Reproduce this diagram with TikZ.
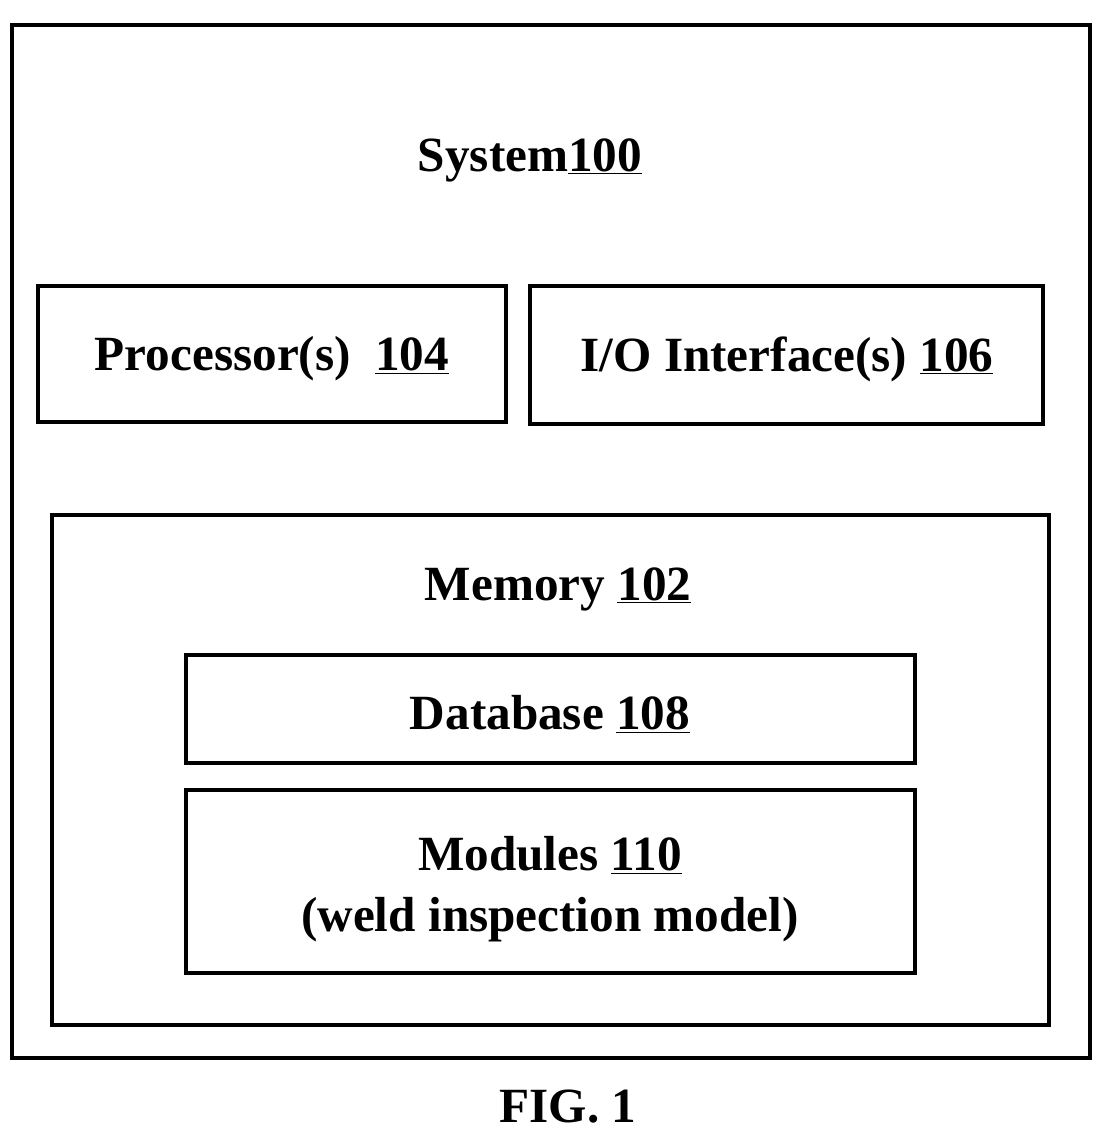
\documentclass[tikz,border=0pt]{standalone}
\usepackage{fontspec}
\setmainfont{Liberation Serif}
\begin{document}
\begin{tikzpicture}[x=0.025cm,y=-0.025cm]
		\tikzstyle{mybox}=[rectangle,
		draw=black,
		line width=3pt,
		inner sep=0pt
		]
		\tikzstyle{mytext}=[font=\fontsize{35}{43}\selectfont\bfseries,
		align=center
		]
		
		\useasboundingbox (0,0) rectangle (1112,1132);
		
		% boxes
		\node[mybox, minimum width=1078*0.025cm, minimum height=1033*0.025cm] (sys) at (551, 541.5) {};
		\node[mybox, minimum width=468*0.025cm, minimum height=136*0.025cm] (proc) at (272, 354) {};
		\node[mybox, minimum width=513*0.025cm, minimum height=138*0.025cm] (io) at (786.5, 355) {};
		\node[mybox, minimum width=997*0.025cm, minimum height=510*0.025cm] (mem) at (550.5, 770) {};
		\node[mybox, minimum width=729*0.025cm, minimum height=108*0.025cm] (db) at (550.5, 709) {};
		\node[mybox, minimum width=729*0.025cm, minimum height=183*0.025cm] (mod) at (550.5, 881.5) {};
		
		% labels
		\node[mytext] (tsys) at (530, 160) {System\underline{100}};
		\node[mytext] (tproc) at (272, 359) {Processor(s)\ \ \underline{104}};
		\node[mytext] (tio) at (787, 359) {I/O Interface(s) \underline{106}};
		\node[mytext] (tmem) at (558, 589) {Memory \underline{102}};
		\node[mytext] (tdb) at (550, 714) {Database \underline{108}};
		\node[mytext] (tmod) at (550, 889) {Modules \underline{110}\\(weld inspection model)};
		\node[mytext] (tfig) at (568, 1107) {FIG. 1};
\end{tikzpicture}
\end{document}
